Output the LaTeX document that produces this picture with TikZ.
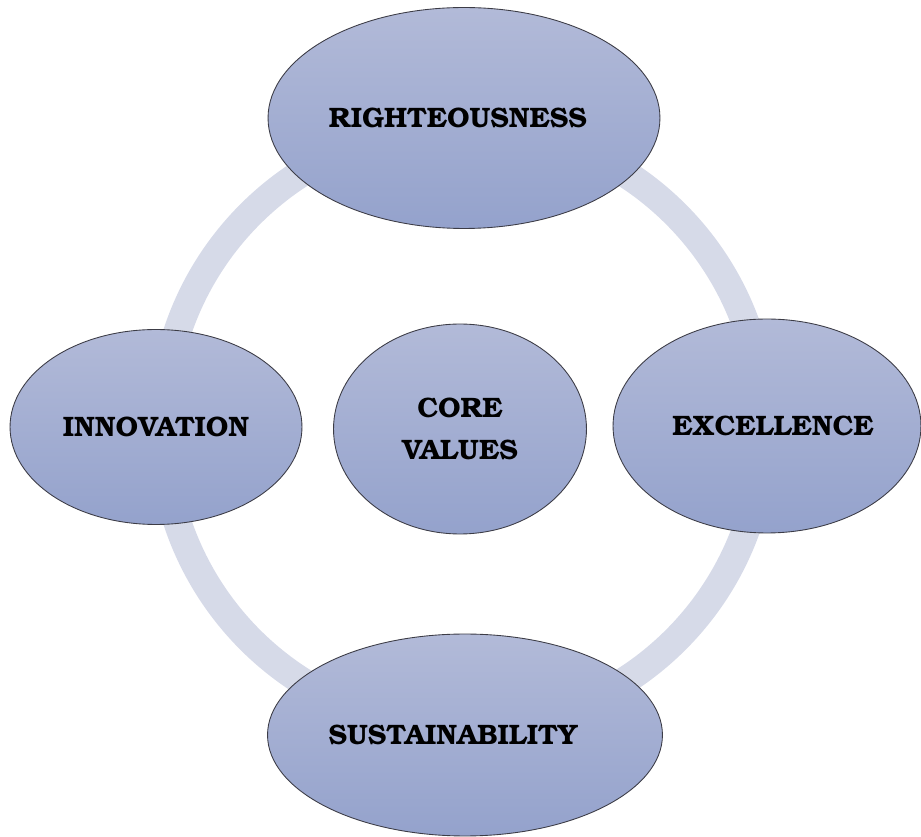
\documentclass[tikz,border=0pt]{standalone}
\usepackage[T1]{fontenc}
\usepackage{tikz}
\usetikzlibrary{shapes,positioning,backgrounds,calc}
\definecolor{ringgray}{RGB}{214,218,232}
\definecolor{ovaltop}{RGB}{178,186,216}
\definecolor{ovalbot}{RGB}{148,162,204}
\definecolor{ovalline}{RGB}{60,60,70}

\begin{document}
\begin{tikzpicture}[x=0.02cm,y=-0.02cm,
  value/.style={ellipse,draw=ovalline,line width=0.5pt,top color=ovaltop,bottom color=ovalbot,
    inner sep=0pt,outer sep=0pt,font=\fontfamily{pbk}\fontsize{16}{24}\selectfont\bfseries,align=center}]
 \useasboundingbox (0,0) rectangle (921,837);
 % ring behind the ovals
 \draw[ringgray,line width=0.56cm] (463,427) circle [radius=6.02cm];
 \node[value,minimum width=7.84cm,minimum height=4.42cm] (right) at (464,118) {RIGHTEOUSNESS\kern0.24cm};
 \node[value,minimum width=5.84cm,minimum height=3.9cm] (inno) at (156,427) {INNOVATION};
 \node[value,minimum width=6.16cm,minimum height=4.28cm] (exc) at (767,426) {\kern0.24cm EXCELLENCE};
 \node[value,minimum width=7.9cm,minimum height=4.04cm] (sust) at (465,735) {SUSTAINABILITY\kern0.48cm};
 \node[value,minimum width=5.06cm,minimum height=4.2cm] (core) at (460,429) {CORE\\VALUES};
\end{tikzpicture}
\end{document}
